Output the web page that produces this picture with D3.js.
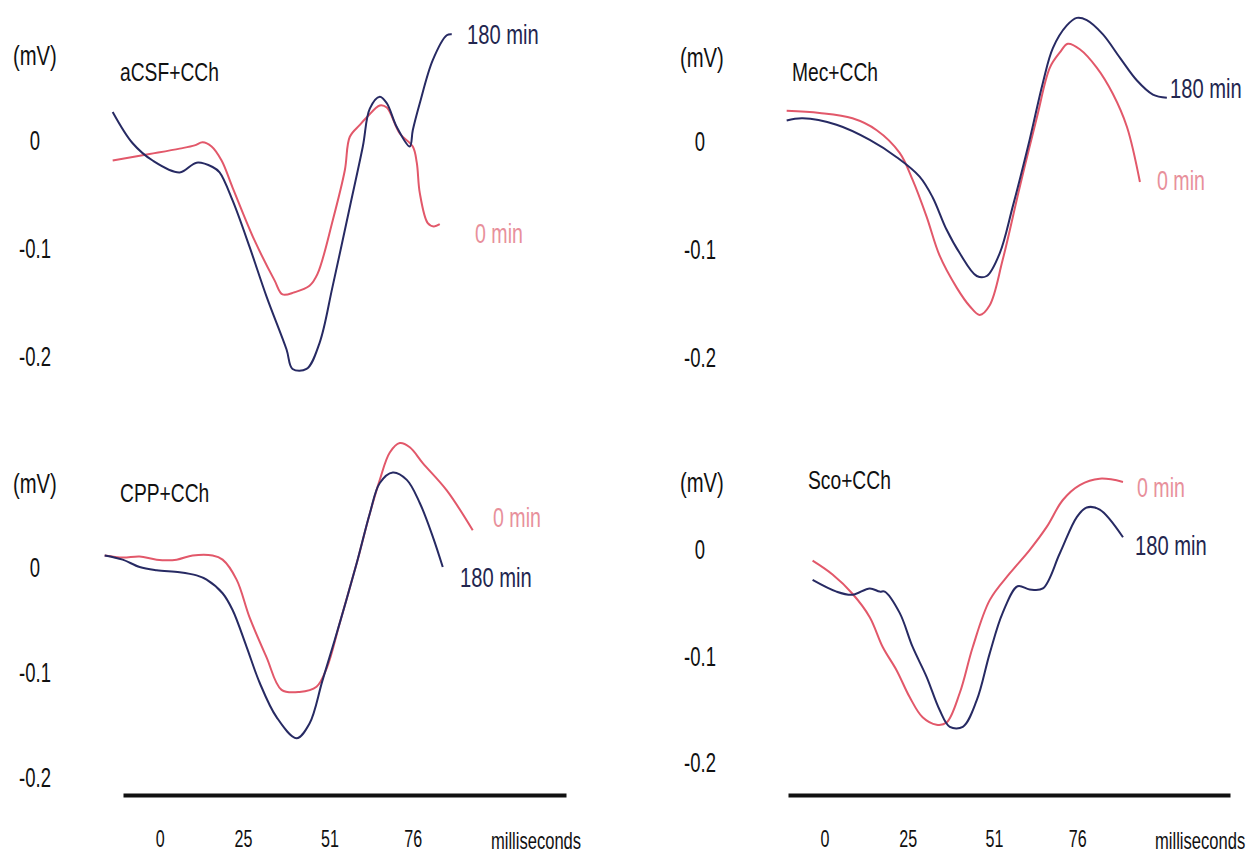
<!DOCTYPE html>
<html>
<head>
<meta charset="utf-8">
<script src="https://cdn.jsdelivr.net/npm/d3@7"></script>
<style>
  body { margin: 0; background: #fff; }
  svg text { font-family: "Liberation Sans", Arial, sans-serif; }
  .trace { fill: none; stroke-width: 2; stroke-linejoin: round; }
  .t0 { stroke: #e2586a; }
  .t180 { stroke: #272a63; }
</style>
</head>
<body>
<div id="chart"></div>
<script>
// values: [milliseconds, mV]
var yTicks = [0, -0.1, -0.2];
var yTickLabels = ["0", "-0.1", "-0.2"];
var xTicks = [0, 25, 51, 76];
var seriesNames = ["0 min", "180 min"];
var panelNames = ["aCSF+CCh", "Mec+CCh", "CPP+CCh", "Sco+CCh"];

var acsf0 = [[-14.1,-0.019],[-3,-0.013],[6,-0.008],[10.5,-0.005],[12.9,-0.002],[15.6,-0.006],[18.6,-0.019],[21.9,-0.044],[28.5,-0.093],[34.5,-0.130],[36.9,-0.143],[40.5,-0.141],[45,-0.135],[47.4,-0.124],[52,-0.074],[55.6,-0.028],[57.1,0.003],[60.1,0.014],[62.2,0.021],[66.1,0.032],[68.2,0.030],[72.1,0.006],[76,-0.006],[77.2,-0.021],[78.1,-0.049],[80.5,-0.077],[82.3,-0.080],[84.1,-0.078]];
var acsf180 = [[-14.1,0.026],[-8.1,-0.003],[-2.1,-0.019],[6,-0.030],[11.1,-0.021],[15.9,-0.025],[18,-0.030],[21.9,-0.056],[27,-0.099],[32.1,-0.145],[38.1,-0.194],[39.9,-0.212],[44.1,-0.212],[48,-0.188],[51.9,-0.136],[57.1,-0.062],[61,-0.006],[63.1,0.029],[66.1,0.040],[68.2,0.034],[71.2,0.012],[75.1,-0.006],[76,0.009],[78.1,0.034],[82,0.074],[86.2,0.097],[87.7,0.098]];

var mec0 = [[-11.4,0.028],[-1.5,0.026],[8.4,0.021],[15.7,0.010],[22.6,-0.011],[26.5,-0.036],[30.7,-0.070],[34.6,-0.106],[39.8,-0.136],[43.7,-0.153],[46.7,-0.161],[49.7,-0.152],[53.6,-0.110],[58.7,-0.043],[63.9,0.022],[67.8,0.068],[70.8,0.082],[73.2,0.090],[76.8,0.085],[81.9,0.068],[86.7,0.044],[91,0.013],[94.9,-0.038]];
var mec180 = [[-11.4,0.019],[-6.6,0.021],[3.6,0.015],[13.6,0.001],[21.7,-0.015],[28.6,-0.033],[32.5,-0.052],[36.7,-0.082],[40.7,-0.104],[45.8,-0.125],[48.8,-0.125],[52.7,-0.104],[56.6,-0.061],[61.7,0.001],[65.7,0.054],[68.7,0.086],[72.9,0.107],[75.9,0.114],[78.9,0.112],[83.7,0.099],[88.9,0.077],[94,0.056],[98.8,0.043],[103,0.040]];

var cpp0 = [[-16.5,0.011],[-11.1,0.009],[-6,0.010],[-0.9,0.007],[5.1,0.007],[9.9,0.011],[15.9,0.011],[18.9,0.007],[23.1,-0.012],[27,-0.048],[32.1,-0.086],[36.6,-0.117],[42,-0.119],[47.1,-0.114],[50.2,-0.096],[54.1,-0.053],[59.2,0.004],[63.1,0.051],[66.1,0.083],[69.1,0.109],[72.1,0.118],[75.1,0.114],[79,0.099],[86.2,0.073],[94,0.035]];
var cpp180 = [[-16.5,0.011],[-11.1,0.007],[-6,0.000],[-0.9,-0.003],[6,-0.005],[11.1,-0.008],[14.1,-0.012],[18.9,-0.025],[21.9,-0.041],[26.1,-0.076],[30,-0.110],[35.1,-0.143],[41.1,-0.163],[45,-0.149],[48.9,-0.108],[54.1,-0.053],[59.2,0.004],[63.1,0.051],[66.1,0.080],[70,0.090],[74.2,0.083],[78.1,0.061],[82,0.029],[85,0.000]];

var sco0 = [[-3.6,-0.011],[2.4,-0.024],[8.4,-0.042],[13.6,-0.064],[17.5,-0.092],[21.7,-0.114],[25.6,-0.139],[29.5,-0.158],[33.7,-0.165],[36.7,-0.163],[40.7,-0.135],[44.6,-0.092],[49.7,-0.048],[55.7,-0.023],[61.7,-0.001],[66.9,0.021],[71.7,0.046],[76.8,0.060],[82.8,0.066],[89.8,0.063]];
var sco180 = [[-3.6,-0.029],[3.6,-0.040],[8.4,-0.043],[13.6,-0.037],[16.6,-0.040],[18.1,-0.040],[22.6,-0.060],[26.5,-0.092],[30.7,-0.120],[34.6,-0.151],[37.7,-0.167],[41.6,-0.167],[45.8,-0.142],[49.7,-0.098],[53.6,-0.060],[58.1,-0.035],[61.7,-0.038],[65.7,-0.037],[70.8,-0.004],[75.9,0.030],[78.9,0.039],[82.8,0.037],[89.8,0.011]];

var width = 1253, height = 858;

// layout of the four panels (pixel positions of the scan)
var panels = [
  { name: panelNames[0], d0: acsf0, d180: acsf180, x0: 123, x1: 566, yZero: 140, yMin: 356, tickX: 35,
    mv: [13, 56], title: [120, 72], lab0: [475, 233], lab180: [467, 34], axis: false },
  { name: panelNames[1], d0: mec0, d180: mec180, x0: 788, x1: 1230, yZero: 141, yMin: 357, tickX: 700,
    mv: [680, 58], title: [792, 72], lab0: [1157, 180], lab180: [1170, 88], axis: false },
  { name: panelNames[2], d0: cpp0, d180: cpp180, x0: 123, x1: 566, yZero: 567, yMin: 777, tickX: 35,
    mv: [13, 484], title: [120, 493], lab0: [493, 517], lab180: [460, 577], axis: true },
  { name: panelNames[3], d0: sco0, d180: sco180, x0: 788, x1: 1230, yZero: 549, yMin: 762, tickX: 700,
    mv: [680, 483], title: [808, 480], lab0: [1137, 487], lab180: [1135, 545], axis: true }
];

var svg = d3.select("#chart")
  .append("svg")
  .attr("width", width)
  .attr("height", height);

// the scan uses a narrow typeface, so text is squeezed horizontally
function label(g, pos, txt, size, sq, color, anchor) {
  return g.append("text")
    .attr("transform", "translate(" + pos[0] + "," + pos[1] + ") scale(" + sq + ",1)")
    .attr("dy", "0.35em")
    .attr("text-anchor", anchor || "start")
    .style("font-size", size + "px")
    .style("fill", color)
    .text(txt);
}

panels.forEach(function(p) {
  var x = d3.scaleLinear().domain([-11, 122]).range([p.x0, p.x1]);
  var y = d3.scaleLinear().domain([-0.2, 0]).range([p.yMin, p.yZero]);

  var g = svg.append("g");

  // y tick labels, no axis line
  var yAxis = g.append("g")
    .attr("transform", "translate(" + p.tickX + ",0)")
    .call(d3.axisLeft(y).tickValues(yTicks).tickSize(0).tickPadding(0)
      .tickFormat(function(d, i) { return yTickLabels[i]; }));
  yAxis.select(".domain").remove();
  yAxis.selectAll("text")
    .attr("x", 0)
    .attr("text-anchor", "middle")
    .attr("dy", "0.35em")
    .attr("transform", "scale(0.66,1)")
    .style("font-size", "28px")
    .style("fill", "#111");

  label(g, p.mv, "(mV)", 27, 0.75, "#111");
  label(g, p.title, p.name, 26, 0.74, "#111");

  var line = d3.line()
    .x(function(d) { return x(d[0]); })
    .y(function(d) { return y(d[1]); })
    .curve(d3.curveCatmullRom.alpha(0.5));

  g.append("path").datum(p.d0).attr("class", "trace t0").attr("d", line);
  g.append("path").datum(p.d180).attr("class", "trace t180").attr("d", line);

  label(g, p.lab0, seriesNames[0], 28, 0.70, "#e8909b");
  label(g, p.lab180, seriesNames[1], 28, 0.72, "#23264f");

  if (p.axis) {
    var xAxis = g.append("g")
      .attr("transform", "translate(0,795)")
      .call(d3.axisBottom(x).tickValues(xTicks).tickSize(0).tickSizeOuter(0).tickPadding(36));
    xAxis.select(".domain")
      .attr("stroke", "#111")
      .attr("stroke-width", 4);
    xAxis.selectAll("text")
      .attr("transform", "scale(0.70,1)")
      .style("font-size", "23px")
      .style("fill", "#111");

    label(g, [x(113), 841], "milliseconds", 23, 0.72, "#111", "middle");
  }
});
</script>
</body>
</html>
